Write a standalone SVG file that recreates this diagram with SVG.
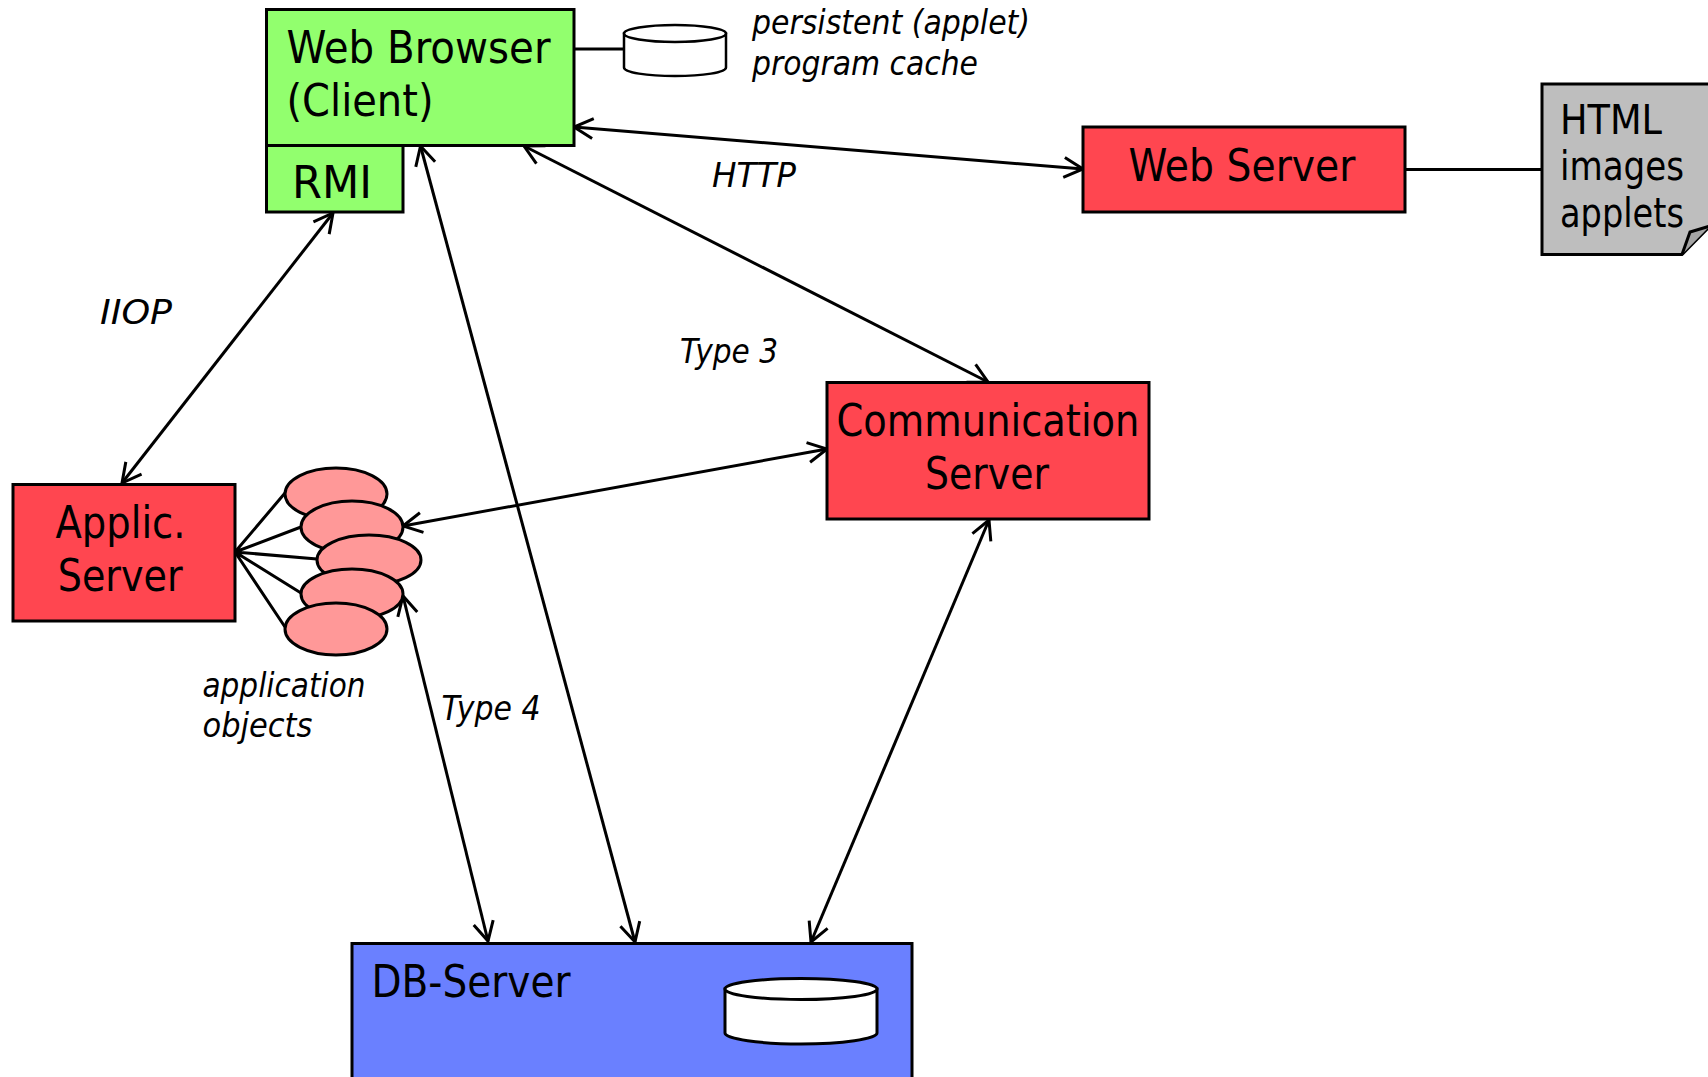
<svg xmlns="http://www.w3.org/2000/svg" width="1708" height="1077" viewBox="0 0 1708 1077">
<style>
text{font-family:"DejaVu Sans Condensed","DejaVu Sans",sans-serif;fill:#000}
.n{font-size:44px}
.d{font-size:40px}
.l{font-size:33px;font-style:italic}
.b{stroke:#000;stroke-width:3;stroke-linejoin:miter}
.g{fill:#92FF6E}.r{fill:#FF4650}.o{fill:#FF9898}
.c{fill:none;stroke:#000;stroke-width:3}
.a{marker-start:url(#h);marker-end:url(#h)}
</style>
<defs>
<marker id="h" markerUnits="userSpaceOnUse" markerWidth="24" markerHeight="24" refX="20" refY="12" orient="auto-start-reverse" overflow="visible">
<path d="M1 2L20 12L1 22" fill="none" stroke="#000" stroke-width="3"/>
</marker>
</defs>
<rect width="1708" height="1077" fill="#fff"/>
<g id="connectors">
<path class="c" d="M574 49H624"/>
<path class="c" d="M1405 169.500H1541"/>
<path class="c" d="M235 552L285 493M235 552L301 527M235 552L317 559M235 552L301 593M235 552L285 627"/>
<path class="c a" d="M574 127L1083 169"/>
<path class="c a" d="M524 146L988 382"/>
<path class="c a" d="M333 213L122 483"/>
<path class="c a" d="M420.500 146L635 942"/>
<path class="c a" d="M403 526L827 449"/>
<path class="c a" d="M403 596L488 941"/>
<path class="c a" d="M989 520L811 942"/>
</g>
<g id="web-browser">
<rect class="b g" x="266.500" y="9.500" width="307.500" height="136"/>
<text class="n" x="286.500" y="63" textLength="264" lengthAdjust="spacingAndGlyphs">Web Browser</text>
<text class="n" x="286.500" y="116" textLength="147" lengthAdjust="spacingAndGlyphs">(Client)</text>
</g>
<g id="rmi">
<rect class="b g" x="266.500" y="145.500" width="136.500" height="66.500"/>
<text class="n" x="292" y="198" textLength="80" lengthAdjust="spacingAndGlyphs">RMI</text>
</g>
<g id="program-cache">
<path d="M624 33.500V67.500C624 72.500 647 76 675 76S726 72.500 726 67.500V33.500Z" fill="#fff" stroke="#000" stroke-width="2.500"/>
<ellipse cx="675" cy="33.500" rx="51" ry="8.500" fill="#fff" stroke="#000" stroke-width="2.500"/>
<text class="l" x="752" y="34" textLength="278" lengthAdjust="spacingAndGlyphs">persistent (applet)</text>
<text class="l" x="752" y="74.500" textLength="226" lengthAdjust="spacingAndGlyphs">program cache</text>
</g>
<g id="web-server">
<rect class="b r" x="1083" y="127" width="322" height="85"/>
<text class="n" x="1128.500" y="181" textLength="227" lengthAdjust="spacingAndGlyphs">Web Server</text>
</g>
<g id="documents">
<path class="b" fill="#BEBEBE" d="M1710 84H1542V254.500H1682L1710 226Z"/>
<path class="b" fill="#A4A4A4" d="M1682 254.500L1690 232L1710 226"/>
<text class="d" x="1560" y="134" textLength="102" lengthAdjust="spacingAndGlyphs">HTML</text>
<text class="d" x="1560" y="180" textLength="124" lengthAdjust="spacingAndGlyphs">images</text>
<text class="d" x="1560" y="227" textLength="124" lengthAdjust="spacingAndGlyphs">applets</text>
</g>
<g id="comm-server">
<rect class="b r" x="827" y="382.500" width="322" height="136.500"/>
<text class="n" x="836.500" y="436" textLength="303" lengthAdjust="spacingAndGlyphs">Communication</text>
<text class="n" x="925" y="489" textLength="124" lengthAdjust="spacingAndGlyphs">Server</text>
</g>
<g id="applic-server">
<rect class="b r" x="13" y="484.500" width="222" height="136.500"/>
<text class="n" x="55.500" y="538" textLength="130" lengthAdjust="spacingAndGlyphs">Applic.</text>
<text class="n" x="57.700" y="591" textLength="125" lengthAdjust="spacingAndGlyphs">Server</text>
</g>
<g id="application-objects">
<ellipse class="b o" cx="336" cy="494" rx="51" ry="26"/>
<ellipse class="b o" cx="352" cy="527" rx="51" ry="26"/>
<ellipse class="b o" cx="369" cy="560" rx="52" ry="25"/>
<ellipse class="b o" cx="352" cy="594" rx="51" ry="25"/>
<ellipse class="b o" cx="336" cy="629" rx="51" ry="26"/>
<text class="l" x="202.500" y="696.500" textLength="163" lengthAdjust="spacingAndGlyphs">application</text>
<text class="l" x="202.500" y="736.500" textLength="110" lengthAdjust="spacingAndGlyphs">objects</text>
</g>
<g id="db-server">
<rect class="b" fill="#6A80FF" x="352" y="943.500" width="560" height="140"/>
<text class="n" x="371.500" y="997" textLength="199" lengthAdjust="spacingAndGlyphs">DB-Server</text>
<path d="M725 989V1033C725 1039 760 1044 801 1044S877 1039 877 1033V989Z" fill="#fff" stroke="#000" stroke-width="3"/>
<ellipse cx="801" cy="989" rx="76" ry="10.500" fill="#fff" stroke="#000" stroke-width="3"/>
</g>
<g id="labels">
<text class="l" x="712" y="187" textLength="84" lengthAdjust="spacingAndGlyphs">HTTP</text>
<text class="l" x="100" y="324" textLength="72" lengthAdjust="spacingAndGlyphs">IIOP</text>
<text class="l" x="680" y="363" textLength="98" lengthAdjust="spacingAndGlyphs">Type 3</text>
<text class="l" x="441.500" y="720" textLength="99" lengthAdjust="spacingAndGlyphs">Type 4</text>
</g>
</svg>
